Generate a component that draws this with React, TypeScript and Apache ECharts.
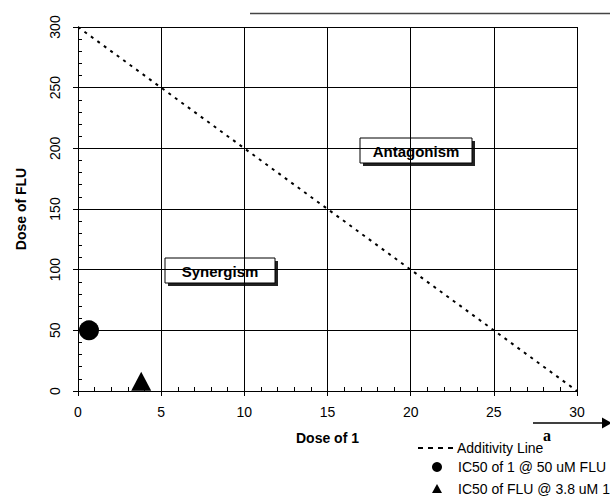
import React, { useEffect, useRef } from "react";
import * as echarts from "echarts";

const additivityX = [0, 30];
const additivityY = [300, 0];
const ic50OfOne = [[0.66, 50]];
const ic50OfFlu = [[3.8, 8]];
const xTicks = { min: 0, max: 30, interval: 5 };
const yTicks = { min: 0, max: 300, interval: 50 };
const legendLabels = ["Additivity Line", "IC50 of 1 @ 50 uM FLU", "IC50 of FLU @ 3.8 uM 1"];
const regionLabels = ["Synergism", "Antagonism"];

const FONT = "Liberation Sans, Arial, sans-serif";

function labelBox(x: number, y: number, w: number, h: number, text: string) {
  return {
    type: "group",
    children: [
      { type: "rect", shape: { x: x + 3, y: y + 3, width: w, height: h }, style: { fill: "#222" } },
      { type: "rect", shape: { x, y, width: w, height: h }, style: { fill: "#fff", stroke: "#000", lineWidth: 1 } },
      {
        type: "text",
        x: x + w / 2,
        y: y + h / 2 + 0.5,
        style: { text, font: `bold 15px ${FONT}`, fill: "#000", align: "center", verticalAlign: "middle" },
      },
    ],
  };
}

export default function App() {
  const ref = useRef<HTMLDivElement>(null);
  useEffect(() => {
    const chart = echarts.init(ref.current!, null, { renderer: "svg" });
    const axisCommon = {
      axisLine: { lineStyle: { color: "#000", width: 1 } },
      axisTick: { show: true, inside: false, length: 5, lineStyle: { color: "#000" } },
      minorTick: { show: true, splitNumber: 5, length: -4, lineStyle: { color: "#000" } },
      splitLine: { show: true, lineStyle: { color: "#000", width: 1 } },
      nameTextStyle: { fontFamily: FONT, fontWeight: "bold", fontSize: 14, color: "#000" },
    };
    chart.setOption({
      animation: false,
      grid: { left: 78, right: 33, top: 27, bottom: 107 },
      xAxis: {
        type: "value",
        ...xTicks,
        ...axisCommon,
        name: "Dose of 1",
        nameLocation: "middle",
        nameGap: 40,
        axisLabel: { fontFamily: FONT, fontSize: 14, color: "#000", margin: 14 },
      },
      yAxis: {
        type: "value",
        ...yTicks,
        ...axisCommon,
        name: "Dose of FLU",
        nameLocation: "middle",
        nameRotate: 90,
        nameGap: 50,
        axisLabel: { fontFamily: FONT, fontSize: 14, color: "#000", rotate: 90, margin: 16 },
      },
      series: [
        {
          name: legendLabels[0],
          type: "line",
          data: additivityX.map((x, i) => [x, additivityY[i]]),
          showSymbol: false,
          symbol: "none",
          lineStyle: { color: "#000", width: 2, type: [3, 5] },
        },
        {
          name: legendLabels[1],
          type: "scatter",
          data: ic50OfOne,
          symbol: "circle",
          symbolSize: 20,
          itemStyle: { color: "#000", opacity: 1 },
        },
        {
          name: legendLabels[2],
          type: "scatter",
          data: ic50OfFlu,
          symbol: "triangle",
          symbolSize: [20, 19],
          itemStyle: { color: "#000", opacity: 1 },
        },
      ],
      graphic: [
        { type: "line", shape: { x1: 250, y1: 13.5, x2: 610, y2: 13.5 }, style: { stroke: "#444", lineWidth: 1.5 } },
        labelBox(165, 258, 110, 25, regionLabels[0]),
        labelBox(360, 138, 112, 25, regionLabels[1]),
        { type: "line", shape: { x1: 533, y1: 423, x2: 604, y2: 423 }, style: { stroke: "#000", lineWidth: 1.5 } },
        { type: "polygon", shape: { points: [[602, 417.5], [612, 423], [602, 428.5]] }, style: { fill: "#000" } },
        { type: "line", shape: { x1: 418, y1: 448, x2: 455, y2: 448 }, style: { stroke: "#000", lineWidth: 2, lineDash: [5, 5] } },
        { type: "text", x: 457, y: 448, style: { text: legendLabels[0], font: `14px ${FONT}`, fill: "#000", verticalAlign: "middle" } },
        { type: "text", x: 543, y: 435, style: { text: "a", font: `bold 16px Liberation Serif, Times New Roman, serif`, fill: "#000", verticalAlign: "middle" } },
        { type: "circle", shape: { cx: 437, cy: 467, r: 5 }, style: { fill: "#000" } },
        { type: "text", x: 458, y: 467, style: { text: legendLabels[1], font: `14px ${FONT}`, fill: "#000", verticalAlign: "middle" } },
        { type: "polygon", shape: { points: [[437, 484], [432, 493], [442, 493]] }, style: { fill: "#000" } },
        { type: "text", x: 458, y: 489, style: { text: legendLabels[2], font: `14px ${FONT}`, fill: "#000", verticalAlign: "middle" } },
      ],
    });
    return () => chart.dispose();
  }, []);
  return <div ref={ref} style={{ position: "fixed", left: 0, top: 0, width: 610, height: 498, background: "#fff" }} />;
}
